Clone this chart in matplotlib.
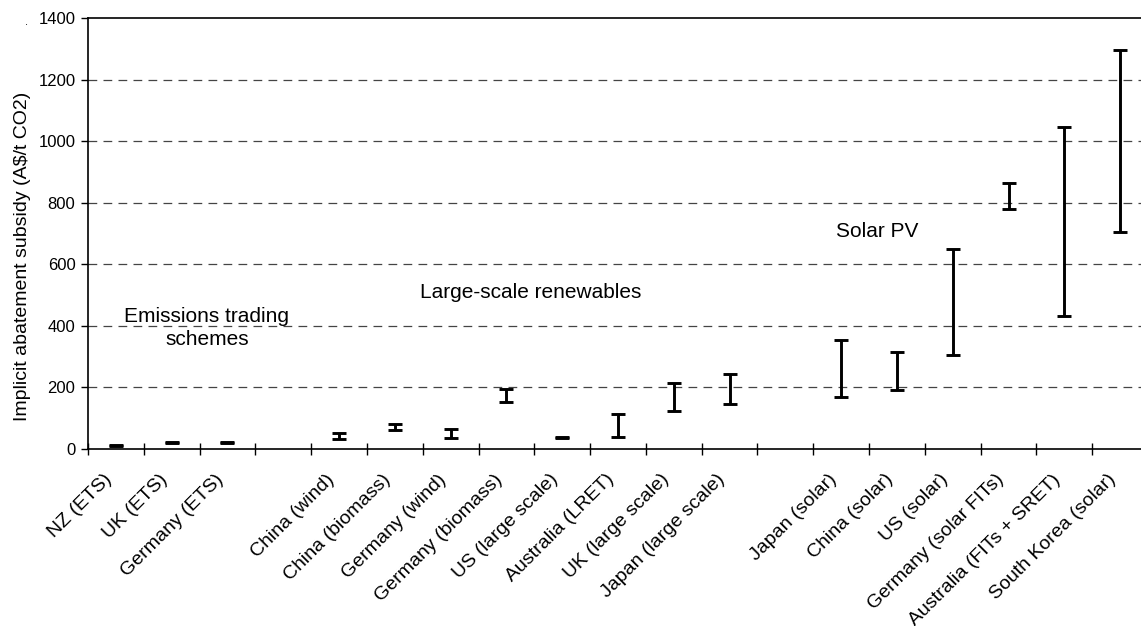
import numpy as np
import matplotlib
matplotlib.use("Agg")
import matplotlib.pyplot as plt
from matplotlib.transforms import ScaledTranslation

plt.rcParams['font.family'] = ['Liberation Sans', 'DejaVu Sans']

# categories (empty strings are the gaps between groups)
labels = ['NZ (ETS)', 'UK (ETS)', 'Germany (ETS)', '',
          'China (wind)', 'China (biomass)', 'Germany (wind)', 'Germany (biomass)',
          'US (large scale)', 'Australia (LRET)', 'UK (large scale)', 'Japan (large scale)', '',
          'Japan (solar)', 'China (solar)', 'US (solar)', 'Germany (solar FITs)',
          'Australia (FITs + SRET)', 'South Korea (solar)']
low = [9, 21, 21, np.nan,
       32, 62, 36, 154, 35, 40, 123, 145, np.nan,
       170, 192, 305, 779, 433, 704]
high = [12, 24, 24, np.nan,
        53, 82, 64, 196, 39, 113, 215, 243, np.nan,
        354, 316, 651, 865, 1047, 1296]
groups = ['Emissions trading\nschemes', 'Large-scale renewables', 'Solar PV']

low = np.array(low, dtype=float)
high = np.array(high, dtype=float)
x = np.arange(len(labels))
ok = ~np.isnan(low)
mid = (low + high) / 2
half = (high - low) / 2

fig = plt.figure(figsize=(11.41, 6.26), dpi=100)
ax = fig.add_axes([88 / 1141, 1 - 449 / 626, 1060 / 1141, 431 / 626])

ax.errorbar(x[ok], mid[ok], yerr=half[ok], fmt='none', ecolor='black',
            elinewidth=2.1, capsize=4.8, capthick=2.1, zorder=3)

ax.set_xlim(-0.5, len(labels) - 0.5)
ax.set_ylim(0, 1400)
ax.set_yticks(np.arange(0, 1401, 200))
ax.set_xticks(np.arange(-0.5, len(labels), 1.0))
ax.set_xticklabels([])
ax.set_xticks(x, minor=True)
ax.set_xticklabels(labels, minor=True, rotation=45, ha='right', va='top',
                   rotation_mode='anchor', fontsize=14)
ax.tick_params(axis='x', which='major', direction='inout', length=8, width=1)
ax.tick_params(axis='x', which='minor', length=0, pad=0)
ax.tick_params(axis='y', direction='out', length=5, width=1, labelsize=12, pad=4)

# shift rotated labels so their ends sit just left of each category
shift = ScaledTranslation(-13 / 100, -22 / 100, fig.dpi_scale_trans)
for lab in ax.get_xticklabels(minor=True):
    lab.set_transform(lab.get_transform() + shift)

for yy in range(200, 1400, 200):
    ax.axhline(yy, color='#444444', lw=0.9, ls=(0, (7, 5)), zorder=1)

for s in ax.spines.values():
    s.set_linewidth(1.2)

ax.set_ylabel('Implicit abatement subsidy (A$/t CO2)', fontsize=14, va='center')
ax.yaxis.set_label_coords(-0.062, 0.448)

ax.text(1.63, 393, groups[0], ha='center', va='center', fontsize=15, linespacing=1.3)
ax.text(7.44, 507, groups[1], ha='center', va='center', fontsize=15)
ax.text(13.64, 705, groups[2], ha='center', va='center', fontsize=15)

fig.text(25 / 1141, 1 - 25 / 626, '.', fontsize=8)

fig.savefig('out.png', dpi=100)
